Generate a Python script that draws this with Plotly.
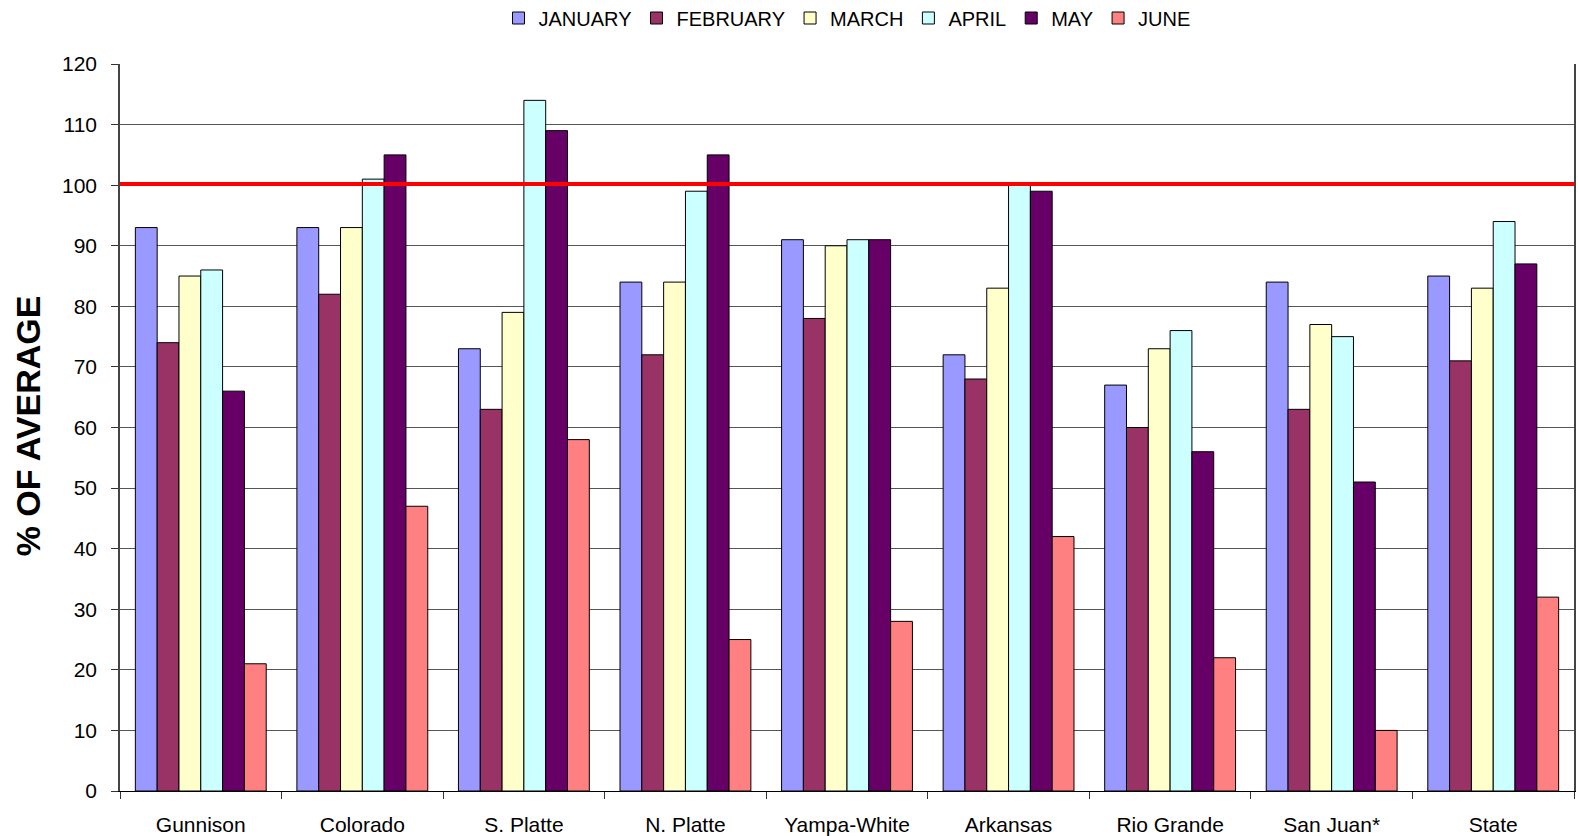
import plotly.graph_objects as go

categories = ["Gunnison", "Colorado", "S. Platte", "N. Platte", "Yampa-White",
              "Arkansas", "Rio Grande", "San Juan*", "State"]
january  = [93, 93, 73, 84, 91, 72, 67, 84, 85]
february = [74, 82, 63, 72, 78, 68, 60, 63, 71]
march    = [85, 93, 79, 84, 90, 83, 73, 77, 83]
april    = [86, 101, 114, 99, 91, 100, 76, 75, 94]
may      = [66, 105, 109, 105, 91, 99, 56, 51, 87]
june     = [21, 47, 58, 25, 28, 42, 22, 10, 32]
average_line = 100.2

series = [
    ("JANUARY", january, "#9999FF"),
    ("FEBRUARY", february, "#993366"),
    ("MARCH", march, "#FFFFCC"),
    ("APRIL", april, "#CCFFFF"),
    ("MAY", may, "#660066"),
    ("JUNE", june, "#FF8080"),
]

fig = go.Figure()
for name, vals, color in series:
    fig.add_trace(go.Bar(
        name=name, x=categories, y=vals,
        marker=dict(color=color, line=dict(color="black", width=1)),
    ))

fig.add_shape(type="line", xref="paper", x0=0, x1=1, yref="y",
              y0=average_line, y1=average_line,
              line=dict(color="#FF0000", width=4), layer="above")

fig.add_annotation(
    text="<b>% OF AVERAGE</b>", textangle=-90,
    xref="paper", x=(28 - 120) / 1454, xanchor="center",
    yref="paper", y=0.503, yanchor="middle",
    showarrow=False, font=dict(size=34, color="black"),
)

fig.update_layout(
    width=1578, height=836,
    margin=dict(l=120, r=4, t=64, b=45, autoexpand=False),
    paper_bgcolor="white", plot_bgcolor="white",
    barmode="group", bargap=0.19, bargroupgap=0,
    font=dict(family="Liberation Sans, Arial, sans-serif", size=21, color="black"),
    legend=dict(orientation="h", x=0.5, xanchor="center",
                y=1 - 18 / 836, yanchor="middle", yref="container",
                font=dict(size=20), traceorder="normal", itemwidth=30),
    showlegend=True,
)

fig.update_xaxes(
    automargin=False,
    showline=True, linecolor="black", linewidth=1,
    ticks="outside", ticklen=7, tickcolor="#333", tickson="boundaries",
    tickfont=dict(size=21), showgrid=False, ticklabelstandoff=15,
)
fig.update_yaxes(
    automargin=False,
    range=[0, 120], dtick=10, tick0=0,
    showline=True, linecolor="#444", linewidth=1.5, mirror=True,
    ticks="outside", ticklen=7, tickcolor="#333",
    showgrid=True, gridcolor="#555", gridwidth=1,
    tickfont=dict(size=21), ticklabelstandoff=10,
    zeroline=False,
)

fig.write_html(
    "out.html",
    config={"displayModeBar": False},
    post_script="document.body.style.margin='0';"
                "document.documentElement.style.overflow='hidden';"
                "document.body.style.overflow='hidden';",
)
